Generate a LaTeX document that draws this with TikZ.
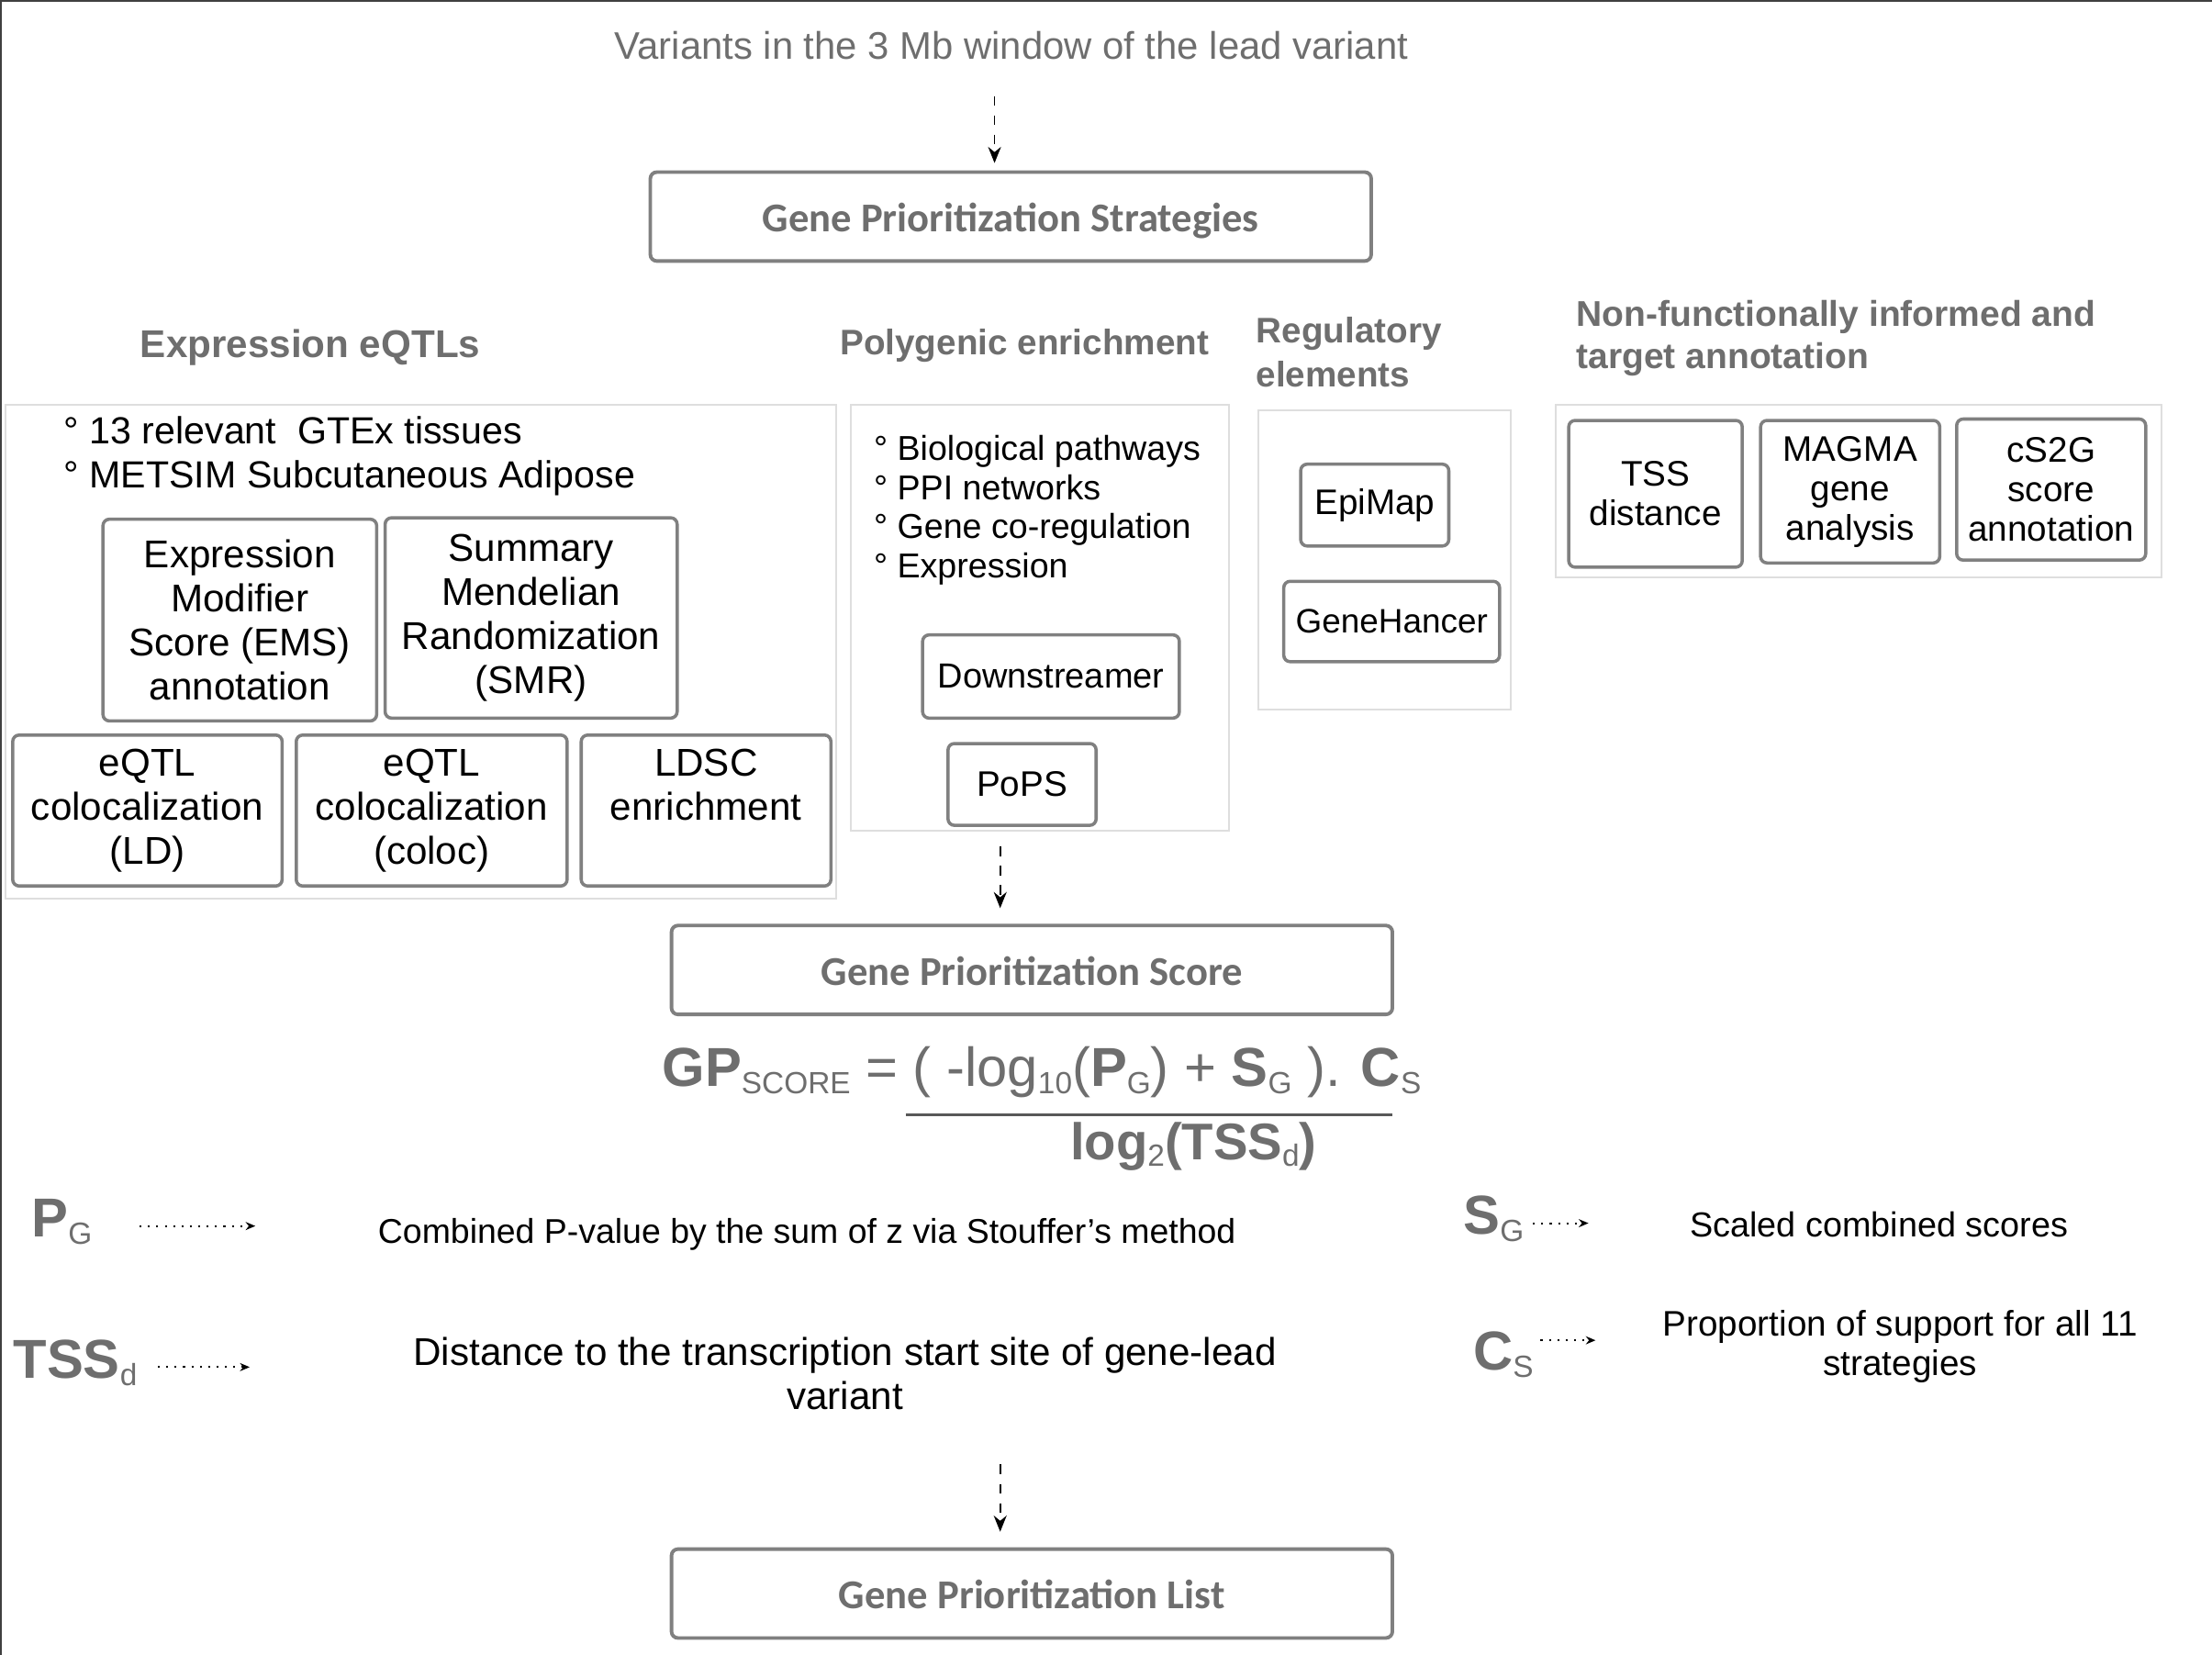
\documentclass[tikz,border=0pt]{standalone}
\usepackage{fontspec}
\setmainfont{Liberation Sans}
\newfontfamily\boxfont{Carlito}
\usetikzlibrary{positioning,arrows.meta}
\definecolor{headgray}{HTML}{6E6E6E}
\definecolor{boxgray}{HTML}{808080}
\definecolor{groupgray}{HTML}{DEDEDE}
\newcommand{\lowsub}[1]{\raisebox{-0.25ex}{\fontsize{9.5}{9.5}\selectfont\mdseries #1}}

\begin{document}
\begin{tikzpicture}[x=0.01537cm, y=-0.01537cm,
  size/.style 2 args={minimum width=#1*0.01537cm, minimum height=#2*0.01537cm},
  box/.style={draw=boxgray, line width=1pt, rounded corners=2pt, inner sep=0pt, align=center, font=\fontsize{11}{12.2}\selectfont},
  eqtl box/.style={box, font=\fontsize{12}{13.6}\selectfont},
  title box/.style={draw=boxgray, line width=1.1pt, rounded corners=2pt, inner sep=0pt, size={511}{63}, text=headgray, text height=12pt, text depth=2.7pt, font=\boxfont\bfseries\fontsize{12.7}{15}\selectfont},
  group/.style={draw=groupgray, line width=0.6pt, inner sep=0pt},
  head/.style={anchor=west, inner sep=0pt, align=left, text=headgray, font=\bfseries\fontsize{11.3}{13.6}\selectfont},
  bullet/.style={anchor=west, inner sep=0pt, align=left},
  sym/.style={anchor=west, inner sep=0pt, text=headgray, font=\bfseries\fontsize{17}{20}\selectfont},
  def/.style={inner sep=0pt, align=center, font=\fontsize{11}{13.6}\selectfont},
  flow/.style={dashed, line width=0.5pt, -{Stealth[length=5pt,width=4pt]}},
  def arrow/.style={dotted, line width=0.6pt, -{Stealth[length=3pt,width=2.5pt]}}
]
\useasboundingbox (0,0) rectangle (1568,1173);
\draw[line width=1pt, black!75] (0,1173) -- (0,0) -- (1568,0);

% top of the flow
\node[text=headgray, font=\fontsize{11.9}{13}\selectfont] (1) at (717,32) {Variants in the 3 Mb window of the lead variant};
\node[title box] (2) at (716.5,153.5) {Gene Prioritization Strategies};

% strategy headings
\node[head, font=\bfseries\fontsize{12}{13.6}\selectfont] (3) at (99,246) {Expression eQTLs};
\node[head, font=\bfseries\fontsize{11}{13.6}\selectfont] (4) at (595,245) {Polygenic enrichment};
\node[head, font=\bfseries\fontsize{11}{13.6}\selectfont] (5) at (890,249.5) {Regulatory\\elements};
\node[head, font=\bfseries\fontsize{11.1}{13.1}\selectfont] (6) at (1117,240) {Non-functionally informed and\\target annotation};

% strategy groups
\node[group, size={589}{350}] (7)  at (298.5,462) {};
\node[group, size={268}{302}] (8)  at (737,438)   {};
\node[group, size={179}{212}] (9)  at (981.5,397) {};
\node[group, size={429}{122}] (10) at (1317.5,348) {};

\node[bullet, font=\fontsize{11.7}{13.6}\selectfont] (11) at (45,323.5) {° 13 relevant\ \ GTEx tissues\\° METSIM Subcutaneous Adipose};
\node[bullet, font=\fontsize{10.7}{12.1}\selectfont] (12) at (619,361.5) {° Biological pathways\\° PPI networks\\° Gene co-regulation\\° Expression};

% eQTL strategies
\node[eqtl box, size={194}{143}] (13) at (170,439.5)   {Expression\\Modifier\\Score (EMS)\\annotation};
\node[eqtl box, size={207}{142}] (14) at (376.5,438)   {Summary\\Mendelian\\Randomization\\(SMR)};
\node[eqtl box, size={191}{107}] (15) at (104.5,574.5) {eQTL\\colocalization\\(LD)};
\node[eqtl box, size={192}{107}] (16) at (306,574.5)   {eQTL\\colocalization\\(coloc)};
\node[eqtl box, size={177}{107}] (17) at (500.5,574.5) {LDSC\\enrichment\\\vphantom{(LD)}};

% polygenic strategies
\node[box, size={182}{59}, font=\fontsize{10.8}{12}\selectfont] (18) at (745,479.5) {Downstreamer};
\node[box, size={105}{58}] (19) at (724.5,556) {PoPS};

% regulatory strategies
\node[box, size={105}{58}] (20) at (974.5,358) {EpiMap};
\node[box, size={153}{57}, font=\fontsize{10.5}{12}\selectfont] (21) at (986.5,440.5) {GeneHancer};

% non-functional strategies
\node[box, size={123}{104}] (22) at (1173.5,350)  {TSS\\distance};
\node[box, size={127}{101}] (23) at (1311.5,348.5) {MAGMA\\gene\\analysis};
\node[box, size={134}{100}] (24) at (1454,347)    {cS2G\\score\\annotation};

% score
\node[title box] (25) at (731.5,687.5) {Gene Prioritization Score};
\node[anchor=base west, inner sep=0pt, text=headgray, font=\fontsize{17}{20}\selectfont] (26) at (469,770)
  {{\bfseries GP}\lowsub{SCORE} = ( -log\lowsub{10}({\bfseries P}\lowsub{G}) + {\bfseries S}\lowsub{G} ). {\bfseries C}\lowsub{S}};
\node[anchor=base, inner sep=0pt, text=headgray, font=\bfseries\fontsize{16}{20}\selectfont] (27) at (846,822)
  {log\lowsub{2}(TSS\lowsub{d})};
\draw[line width=0.8pt, headgray!80!black] (642,790) -- (987,790);

% terms of the score
\node[sym] (28) at (22,866)   {P\lowsub{G}};
\node[def, font=\fontsize{10.65}{13.6}\selectfont] (29) at (572,875) {Combined P-value by the sum of z via Stouffer’s method};
\node[sym] (30) at (1037,864) {S\lowsub{G}};
\node[def, font=\fontsize{10.75}{13.6}\selectfont] (31) at (1332,868) {Scaled combined scores};
\node[sym] (32) at (9,966)    {TSS\lowsub{d}};
\node[def, font=\fontsize{12}{13.6}\selectfont] (33) at (599,973.5) {Distance to the transcription start site of gene-lead\\variant};
\node[sym] (34) at (1044,960) {C\lowsub{S}};
\node[def, font=\fontsize{11}{12}\selectfont] (35) at (1347,954.5) {Proportion of support for all 11\\strategies};

\coordinate (p1) at (181,869);
\coordinate (p2) at (1126,867);
\coordinate (p3) at (177,969);
\coordinate (p4) at (1131,950);
\draw[def arrow, shorten <=0.51cm] (28.east |- p1) -- (p1);
\draw[def arrow, shorten <=0.09cm] (30.east |- p2) -- (p2);
\draw[def arrow, shorten <=0.22cm] (32.east |- p3) -- (p3);
\draw[def arrow, shorten <=0.07cm] (34.east |- p4) -- (p4);

% end of the flow
\node[title box] (36) at (731.5,1129.5) {Gene Prioritization List};

\coordinate (a) at (705,68);
\coordinate (b) at (709,600);
\coordinate (c) at (709,1038);
\path (a) edge[flow, shorten >=0.08cm] (a |- 2.north)
      (b) edge[flow, shorten >=0.17cm] (b |- 25.north)
      (c) edge[flow, shorten >=0.17cm] (c |- 36.north);
\end{tikzpicture}
\end{document}
